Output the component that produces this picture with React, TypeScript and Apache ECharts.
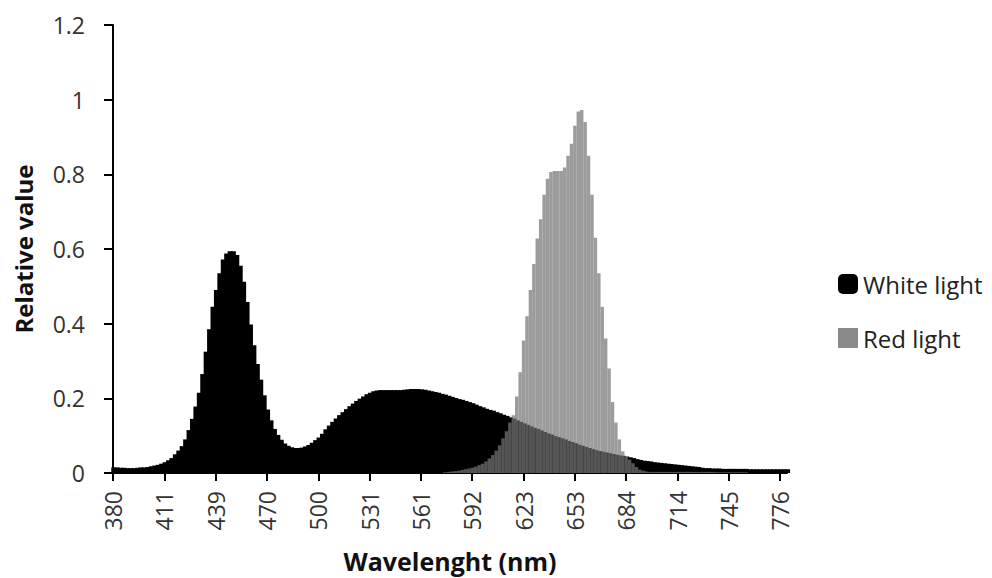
import React, { useEffect, useRef } from "react";
import * as echarts from "echarts";

// Tick labels shown on the wavelength axis (every 15th category)
const tickLabels = [380, 411, 439, 470, 500, 531, 561, 592, 623, 653, 684, 714, 745, 776];
const tailCategories = [778, 780];
const STEPS_PER_LABEL = 15;

// Category names (wavelengths, nm)
const categories: string[] = [];
for (let k = 0; k < tickLabels.length - 1; k++) {
  for (let j = 0; j < STEPS_PER_LABEL; j++) {
    categories.push(
      String(Math.round(tickLabels[k] + ((tickLabels[k + 1] - tickLabels[k]) * j) / STEPS_PER_LABEL))
    );
  }
}
categories.push(String(tickLabels[tickLabels.length - 1]));
tailCategories.forEach((c) => categories.push(String(c)));

const whiteLight = [
  0.015, 0.015, 0.014, 0.014, 0.013, 0.013, 0.013, 0.014, 0.015, 0.015,
  0.016, 0.018, 0.02, 0.022, 0.025, 0.029, 0.034, 0.04, 0.05, 0.06,
  0.072, 0.09, 0.115, 0.145, 0.178, 0.215, 0.265, 0.325, 0.385, 0.445,
  0.49, 0.535, 0.572, 0.588, 0.594, 0.594, 0.584, 0.555, 0.512, 0.458,
  0.398, 0.342, 0.292, 0.25, 0.208, 0.17, 0.141, 0.118, 0.102, 0.089,
  0.079, 0.073, 0.069, 0.067, 0.067, 0.068, 0.071, 0.075, 0.081, 0.088,
  0.095, 0.105, 0.117, 0.127, 0.137, 0.146, 0.155, 0.163, 0.171, 0.179,
  0.186, 0.193, 0.199, 0.205, 0.211, 0.215, 0.219, 0.221, 0.222, 0.222,
  0.222, 0.222, 0.222, 0.222, 0.222, 0.223, 0.224, 0.225, 0.225, 0.225,
  0.224, 0.223, 0.221, 0.219, 0.217, 0.215, 0.212, 0.21, 0.207, 0.204,
  0.201, 0.198, 0.196, 0.193, 0.19, 0.187, 0.183, 0.179, 0.176, 0.172,
  0.169, 0.167, 0.163, 0.16, 0.156, 0.153, 0.149, 0.146, 0.141, 0.137,
  0.133, 0.129, 0.125, 0.121, 0.118, 0.114, 0.11, 0.106, 0.103, 0.099,
  0.096, 0.093, 0.09, 0.086, 0.083, 0.08, 0.076, 0.073, 0.07, 0.067,
  0.064, 0.061, 0.059, 0.057, 0.055, 0.053, 0.051, 0.049, 0.047, 0.046,
  0.044, 0.042, 0.04, 0.037, 0.035, 0.033, 0.032, 0.031, 0.029, 0.028,
  0.027, 0.026, 0.025, 0.024, 0.023, 0.022, 0.021, 0.02, 0.019, 0.018,
  0.017, 0.016, 0.014, 0.013, 0.013, 0.012, 0.012, 0.012, 0.011, 0.011,
  0.011, 0.011, 0.011, 0.011, 0.011, 0.011, 0.01, 0.01, 0.01, 0.01,
  0.01, 0.01, 0.01, 0.01, 0.01, 0.01, 0.01, 0.01,
];

const redLight = [
  0, 0, 0, 0, 0, 0, 0, 0, 0, 0,
  0, 0, 0, 0, 0, 0, 0, 0, 0, 0,
  0, 0, 0, 0, 0, 0, 0, 0, 0, 0,
  0, 0, 0, 0, 0, 0, 0, 0, 0, 0,
  0, 0, 0, 0, 0, 0, 0, 0, 0, 0,
  0, 0, 0, 0, 0, 0, 0, 0, 0, 0,
  0, 0, 0, 0, 0, 0, 0, 0, 0, 0,
  0, 0, 0, 0, 0, 0, 0, 0, 0, 0,
  0, 0, 0, 0, 0, 0, 0, 0, 0, 0,
  0, 0, 0, 0, 0, 0, 0, 0.002, 0.003, 0.004,
  0.005, 0.006, 0.008, 0.01, 0.012, 0.014, 0.017, 0.021, 0.025, 0.031,
  0.039, 0.048, 0.06, 0.074, 0.093, 0.112, 0.135, 0.155, 0.205, 0.27,
  0.355, 0.42, 0.49, 0.56, 0.628, 0.68, 0.745, 0.788, 0.806, 0.809,
  0.809, 0.809, 0.818, 0.85, 0.882, 0.93, 0.968, 0.972, 0.94, 0.85,
  0.745, 0.63, 0.535, 0.445, 0.36, 0.28, 0.19, 0.135, 0.09, 0.058,
  0.045, 0.036, 0.026, 0.016, 0.009, 0.006, 0.004, 0.003, 0.003, 0.003,
  0.003, 0.003, 0.003, 0.003, 0.003, 0.003, 0.003, 0.003, 0.003, 0.003,
  0.003, 0.003, 0.003, 0.003, 0.003, 0.003, 0.003, 0.002, 0.002, 0.002,
  0.002, 0.002, 0.002, 0.002, 0.002, 0.002, 0, 0, 0, 0,
  0, 0, 0, 0, 0, 0, 0, 0,
];

const FONT = "'Open Sans', 'Noto Sans', sans-serif";
const BAND = 674 / (categories.length - 1);

export default function App() {
  const ref = useRef<HTMLDivElement>(null);

  useEffect(() => {
    if (!ref.current) return;
    const chart = echarts.init(ref.current, undefined, { renderer: "svg" });
    chart.setOption({
      animation: false,
      backgroundColor: "#ffffff",
      textStyle: { fontFamily: FONT },
      grid: { left: 113, right: 205, top: 25, bottom: 102, containLabel: false },
      legend: {
        orient: "vertical",
        left: 833,
        top: 267,
        itemWidth: 20,
        itemHeight: 20,
        itemGap: 30,
        textStyle: { fontSize: 24, color: "#222", fontFamily: FONT },
        data: [
          { name: "White light", icon: "roundRect", itemStyle: { color: "#000", borderWidth: 0 } },
          { name: "Red light", icon: "rect", itemStyle: { color: "#8a8a8a", borderWidth: 0 } },
        ],
      },
      xAxis: {
        type: "category",
        data: categories,
        boundaryGap: false,
        axisLine: { lineStyle: { color: "#000", width: 2 } },
        axisTick: { interval: STEPS_PER_LABEL - 1, length: 8, lineStyle: { color: "#000", width: 2 } },
        axisLabel: {
          interval: STEPS_PER_LABEL - 1,
          rotate: 90,
          margin: 18,
          fontSize: 23,
          color: "#333",
          fontFamily: FONT,
        },
        splitLine: { show: false },
        name: "Wavelenght (nm)",
        nameLocation: "middle",
        nameGap: 75,
        nameTextStyle: { fontSize: 25, fontWeight: "bold", color: "#111", fontFamily: FONT },
      },
      yAxis: {
        type: "value",
        min: 0,
        max: 1.2,
        interval: 0.2,
        axisLine: { show: true, lineStyle: { color: "#000", width: 2 } },
        axisTick: { show: true, length: 9, lineStyle: { color: "#000", width: 2 } },
        axisLabel: { margin: 28, fontSize: 23, color: "#333", fontFamily: FONT },
        splitLine: { show: false },
        name: "Relative value",
        nameLocation: "middle",
        nameGap: 78,
        nameTextStyle: { fontSize: 24, fontWeight: "bold", color: "#111", fontFamily: FONT },
      },
      series: [
        {
          name: "White light",
          type: "bar",
          data: whiteLight,
          barGap: "-100%",
          barWidth: BAND + 1.4,
          itemStyle: { color: "#000", borderWidth: 0 },
        },
        {
          name: "Red light",
          type: "bar",
          data: redLight,
          barGap: "-100%",
          barWidth: BAND,
          itemStyle: {
            color: "rgba(118,118,118,0.72)",
            borderWidth: 0,
          },
        },
      ],
    });
    return () => chart.dispose();
  }, []);

  return (
    <div
      ref={ref}
      style={{ position: "fixed", left: 0, top: 0, width: 992, height: 578, background: "#fff" }}
    />
  );
}
